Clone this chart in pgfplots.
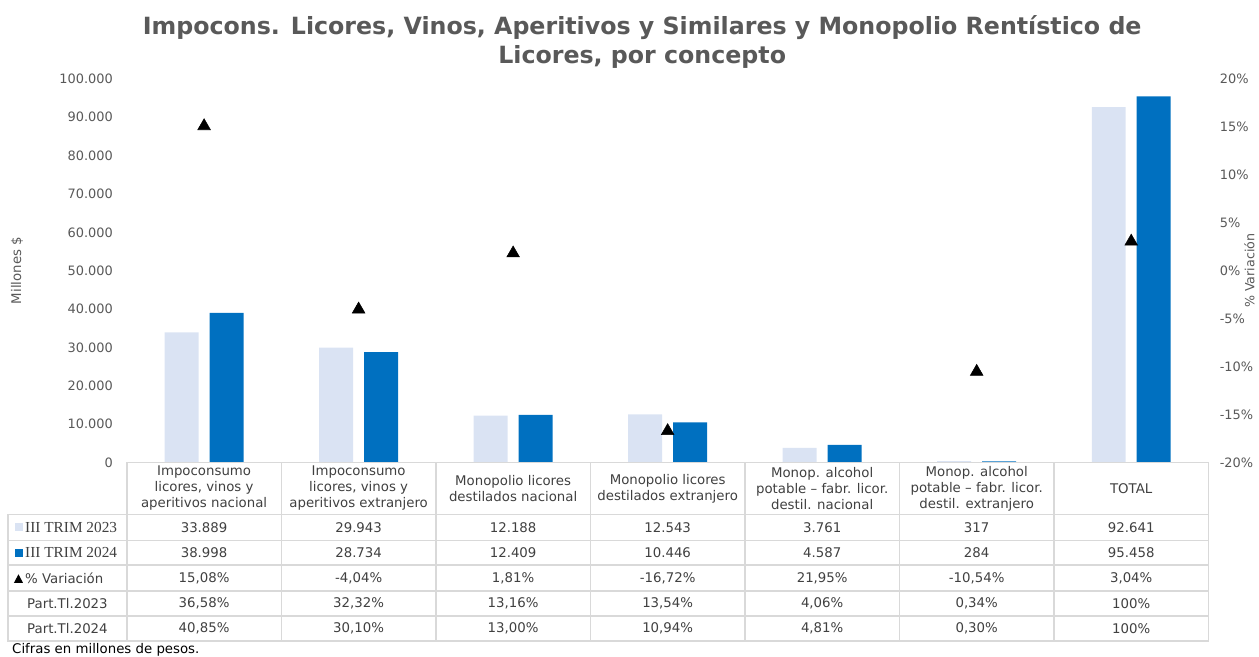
\documentclass[border=0pt]{standalone}
\usepackage{pgfplots}
\pgfplotsset{compat=1.18}
\usepackage{fontspec}
\setmainfont{DejaVu Sans}
\newfontfamily\keyfont{Liberation Serif}

\definecolor{c23}{HTML}{DAE3F3}
\definecolor{c24}{HTML}{0070C0}
\definecolor{axisgray}{HTML}{595959}
\definecolor{tabtext}{HTML}{404040}
\definecolor{tabline}{HTML}{D9D9D9}

\begin{document}
\begin{tikzpicture}
% pixel frame: 1px = 0.75pt, y downwards, axis origin at pixel (127,463)
\begin{scope}[x=0.75pt,y=-0.75pt,shift={(-95.25pt,347.25pt)}]
  \path[use as bounding box] (0,0) rectangle (1259,652);
\end{scope}

\begin{axis}[
    at={(0pt,0pt)}, anchor=south west,
    scale only axis, width=812.25pt, height=288pt,
    ybar=8.25pt, bar width=25.5pt,
    xmin=-0.5, xmax=6.5, ymin=0, ymax=100000,
    axis line style={draw=none}, major tick length=0pt,
    xtick=\empty, scaled y ticks=false,
    ytick={0,10000,20000,30000,40000,50000,60000,70000,80000,90000,100000},
    yticklabels={0,10.000,20.000,30.000,40.000,50.000,60.000,70.000,80.000,90.000,100.000},
    yticklabel pos=left,
    yticklabel style={font=\fontsize{9.7}{12}\selectfont, text=axisgray, xshift=-7pt},
]
\addplot[fill=c23, draw=none] coordinates {
    (0,33889) (1,29943) (2,12188) (3,12543) (4,3761) (5,317) (6,92641)
};
\addplot[fill=c24, draw=none] coordinates {
    (0,38998) (1,28734) (2,12409) (3,10446) (4,4587) (5,284) (6,95458)
};
\end{axis}

\begin{axis}[
    at={(0pt,0pt)}, anchor=south west,
    scale only axis, width=812.25pt, height=288pt,
    xmin=-0.5, xmax=6.5, ymin=-20, ymax=20,
    axis line style={draw=none}, major tick length=0pt,
    xtick=\empty,
    ytick={-20,-15,-10,-5,0,5,10,15,20},
    yticklabels={-20\%,-15\%,-10\%,-5\%,0\%,5\%,10\%,15\%,20\%},
    yticklabel pos=right,
    yticklabel style={font=\fontsize{9.7}{12}\selectfont, text=axisgray, xshift=5pt},
]
\addplot[only marks, mark=triangle*, mark size=5.5pt, black,
         restrict y to domain=-20:20] coordinates {
    (0,15.08) (1,-4.04) (2,1.81) (3,-16.72) (4,21.95) (5,-10.54) (6,3.04)
};
\end{axis}

\begin{scope}[x=0.75pt,y=-0.75pt,shift={(-95.25pt,347.25pt)}]
  % title and axis titles
  \node[font=\fontsize{17.8}{21.75}\selectfont\bfseries, text=axisgray, align=center]
    at (643,42.5) {Impocons. Licores, Vinos, Aperitivos y Similares y Monopolio Rentístico de\\Licores, por concepto};
  \node[rotate=90, font=\fontsize{10}{12}\selectfont, text=axisgray] at (17,271) {Millones \$};
  \node[rotate=90, font=\fontsize{9.5}{11}\selectfont, text=axisgray] at (1251,271) {\% Variación};

  % table grid
  \begin{scope}[tabline, line width=1.2pt]
    \draw (127,463) rectangle (1210,642);
    \draw (8,515) rectangle (127,642);
    \foreach \yy in {515,541,566,592,617} \draw (8,\yy) -- (1210,\yy);
    \foreach \i in {1,...,6} \draw ({127+154.714*\i},463) -- ({127+154.714*\i},642);
  \end{scope}

  \begin{scope}[font=\fontsize{10}{12}\selectfont, text=tabtext]
    \foreach \t [count=\i from 0] in {
        {Impoconsumo\\licores, vinos y\\aperitivos nacional},
        {Impoconsumo\\licores, vinos y\\aperitivos extranjero},
        {Monopolio licores\\destilados nacional},
        {Monopolio licores\\destilados extranjero},
        {Monop. alcohol\\potable – fabr. licor.\\destil. nacional},
        {Monop. alcohol\\potable – fabr. licor.\\destil. extranjero},
        {TOTAL}}
      \node[align=center] at ({127+154.714*(\i+0.5)},489) {\t};
    \foreach \t [count=\i from 0] in {33.889,29.943,12.188,12.543,3.761,317,92.641}
      \node at ({127+154.714*(\i+0.5)},528) {\t};
    \foreach \t [count=\i from 0] in {38.998,28.734,12.409,10.446,4.587,284,95.458}
      \node at ({127+154.714*(\i+0.5)},553.5) {\t};
    \foreach \t [count=\i from 0] in {{15,08\%},{-4,04\%},{1,81\%},{-16,72\%},{21,95\%},{-10,54\%},{3,04\%}}
      \node at ({127+154.714*(\i+0.5)},579) {\t};
    \foreach \t [count=\i from 0] in {{36,58\%},{32,32\%},{13,16\%},{13,54\%},{4,06\%},{0,34\%},{100\%}}
      \node at ({127+154.714*(\i+0.5)},604.5) {\t};
    \foreach \t [count=\i from 0] in {{40,85\%},{30,10\%},{13,00\%},{10,94\%},{4,81\%},{0,30\%},{100\%}}
      \node at ({127+154.714*(\i+0.5)},629.5) {\t};

    % row headers with legend keys
    \fill[c23] (15,524) rectangle (23,532);
    \node[anchor=west, inner sep=0pt, font=\keyfont\fontsize{11.5}{13}\selectfont] at (25,528) {III TRIM 2023};
    \fill[c24] (15,549.5) rectangle (23,557.5);
    \node[anchor=west, inner sep=0pt, font=\keyfont\fontsize{11.5}{13}\selectfont] at (25,553.5) {III TRIM 2024};
    \fill[black] (14,583.5) -- (23,583.5) -- (18.5,575) -- cycle;
    \node[anchor=west, inner sep=0pt] at (25,579) {\% Variación};
    \node at (67.5,604.5) {Part.Tl.2023};
    \node at (67.5,629.5) {Part.Tl.2024};
  \end{scope}

  \node[anchor=west, inner sep=0pt, font=\fontsize{10}{12}\selectfont] at (12,651) {Cifras en millones de pesos.};
\end{scope}
\end{tikzpicture}
\end{document}
